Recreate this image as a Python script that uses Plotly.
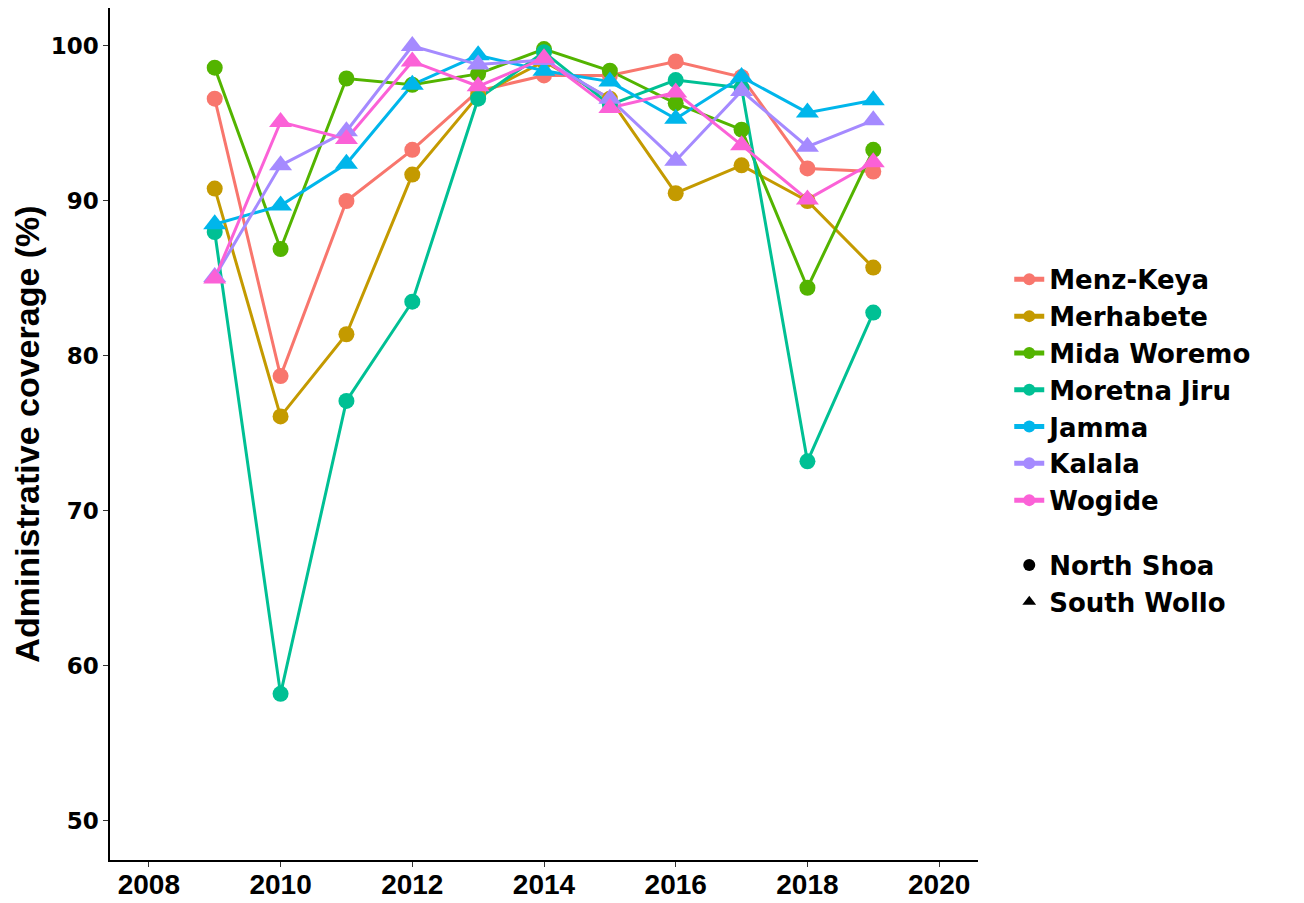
import plotly.graph_objects as go

years = [2009, 2010, 2011, 2012, 2013, 2014, 2015, 2016, 2017, 2018, 2019]

districts = ["Menz-Keya", "Merhabete", "Mida Woremo", "Moretna Jiru", "Jamma", "Kalala", "Wogide"]
zones = ["North Shoa", "North Shoa", "North Shoa", "North Shoa", "South Wollo", "South Wollo", "South Wollo"]
colors = ["#F8766D", "#C49A00", "#53B400", "#00C094", "#00B6EB", "#A58AFF", "#FB61D7"]

menz_keya    = [96.6, 78.7, 90.0, 93.3, 97.1, 98.1, 98.1, 99.0, 98.0, 92.1, 91.9]
merhabete    = [90.8, 76.1, 81.4, 91.7, 96.8, 99.0, 96.6, 90.5, 92.3, 90.0, 85.7]
mida_woremo  = [98.6, 86.9, 97.9, 97.5, 98.2, 99.8, 98.4, 96.3, 94.6, 84.4, 93.3]
moretna_jiru = [88.0, 58.2, 77.1, 83.5, 96.6, 99.6, 96.2, 97.8, 97.3, 73.2, 82.8]
jamma        = [88.5, 89.7, 92.4, 97.5, 99.4, 98.4, 97.7, 95.3, 98.0, 95.7, 96.5]
kalala       = [85.1, 92.3, 94.5, 100.0, 98.8, 99.1, 96.6, 92.6, 97.1, 93.5, 95.2]
wogide       = [85.0, 95.1, 94.0, 99.0, 97.4, 99.2, 96.0, 97.0, 93.6, 90.1, 92.5]

values = [menz_keya, merhabete, mida_woremo, moretna_jiru, jamma, kalala, wogide]

zone_names = ["North Shoa", "South Wollo"]
zone_symbols = {"North Shoa": "circle", "South Wollo": "triangle-up"}
zone_sizes = {"North Shoa": 16, "South Wollo": 20}

fig = go.Figure()

# lines first (like ggplot geom_line), then points on top
for name, vals, col in zip(districts, values, colors):
    fig.add_trace(go.Scatter(x=years, y=vals, mode="lines",
                             line=dict(color=col, width=3),
                             showlegend=False, hoverinfo="skip"))
for name, vals, col, z in zip(districts, values, colors, zones):
    fig.add_trace(go.Scatter(x=years, y=vals, mode="markers", name=name,
                             marker=dict(color=col, symbol=zone_symbols[z],
                                         size=zone_sizes[z], line=dict(width=0)),
                             showlegend=False))

# legend entries: colour
for name, col in zip(districts, colors):
    fig.add_trace(go.Scatter(x=[None], y=[None], mode="lines+markers", name=name,
                             line=dict(color=col, width=3),
                             marker=dict(color=col, symbol="circle", size=16),
                             legendgroup="district"))
# legend entries: shape
for z in zone_names:
    fig.add_trace(go.Scatter(x=[None], y=[None], mode="markers", name=z,
                             marker=dict(color="black", symbol=zone_symbols[z], size=16),
                             legendgroup="zone"))

fig.update_layout(
    width=1304, height=903,
    paper_bgcolor="white", plot_bgcolor="white",
    margin=dict(l=102, r=334, t=0, b=51),
    font=dict(family="Liberation Sans", color="black"),
    legend=dict(x=1.036, y=0.709, xanchor="left", yanchor="top",
                traceorder="grouped", tracegroupgap=28,
                font=dict(size=26, family="DejaVu Sans", weight="bold", color="black"),
                itemsizing="constant", itemwidth=30,
                bgcolor="rgba(0,0,0,0)"),
    showlegend=True,
)

fig.update_xaxes(range=[2007.41, 2020.59], tickvals=[2008, 2010, 2012, 2014, 2016, 2018, 2020],
                 ticks="outside", ticklen=5, tickcolor="#333333", tickwidth=1,
                 showline=True, linecolor="black", linewidth=1.5, showgrid=False, zeroline=False,
                 ticklabelstandoff=-6,
                 tickfont=dict(size=28, family="Liberation Sans", weight="bold", color="black"))
fig.update_yaxes(range=[47.48, 102.45], tickvals=[50, 60, 70, 80, 90, 100],
                 ticks="outside", ticklen=5, tickcolor="#333333", tickwidth=1,
                 showline=True, linecolor="black", linewidth=1.5, showgrid=False, zeroline=False,
                 tickfont=dict(size=23, family="DejaVu Sans", weight="bold", color="black"),
                 title=dict(text="Administrative coverage (%)", standoff=9,
                            font=dict(size=34, family="Liberation Sans", weight="bold", color="black")))

fig.write_html("out.html")
